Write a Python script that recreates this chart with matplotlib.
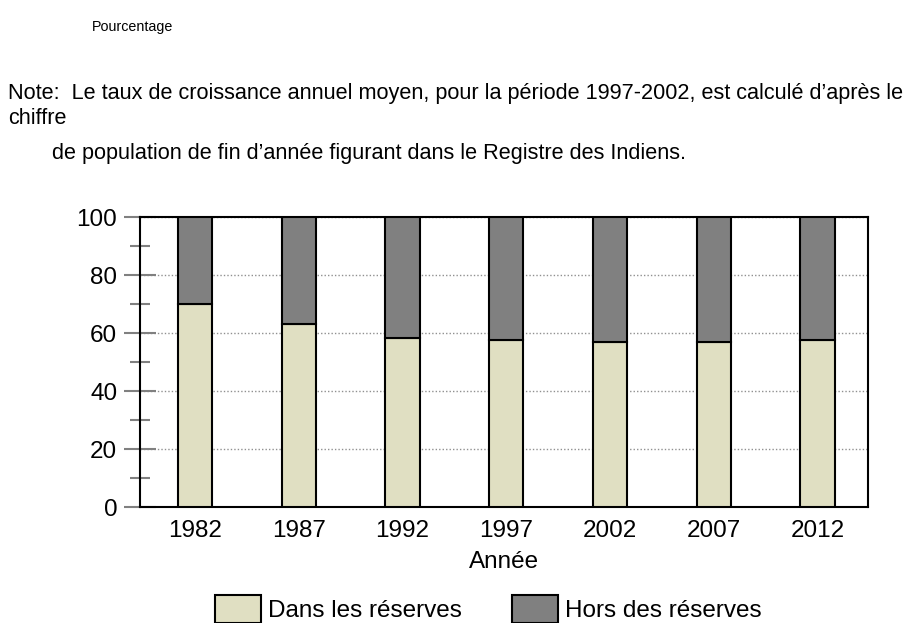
import matplotlib
matplotlib.use("Agg")
import matplotlib.pyplot as plt
from matplotlib.patches import Patch
import numpy as np

plt.rcParams['font.family'] = ['Liberation Sans', 'DejaVu Sans']

years = ["1982", "1987", "1992", "1997", "2002", "2007", "2012"]
dans_reserves = [70.2, 63.3, 58.5, 57.8, 57.1, 57.1, 57.8]
hors_reserves = [100 - v for v in dans_reserves]
series_labels = ["Dans les réserves", "Hors des réserves"]
colors = ["#e0dfc2", "#808080"]

fig = plt.figure(figsize=(9.12, 6.23), dpi=100)
ax = fig.add_axes([0.153, 0.186, 0.799, 0.465])

x = np.arange(len(years))
w = 0.33
ax.bar(x, dans_reserves, width=w, color=colors[0], edgecolor="black", linewidth=1.5, zorder=3)
ax.bar(x, hors_reserves, width=w, bottom=dans_reserves, color=colors[1], edgecolor="black", linewidth=1.5, zorder=3)

ax.set_xlim(-0.535, 6.49)
ax.set_ylim(0, 100)
ax.set_xticks(x)
ax.set_xticklabels(years, fontsize=17.5)
ax.set_yticks([0, 20, 40, 60, 80, 100])
ax.set_yticks([10, 30, 50, 70, 90], minor=True)
ax.tick_params(axis='y', which='major', direction='inout', length=23, width=1.5, color='#808080', labelsize=17.5, pad=4.5)
ax.tick_params(axis='y', which='minor', direction='inout', length=15, width=1.5, color='#808080')
ax.tick_params(axis='x', length=0, pad=9.6)
for s in ax.spines.values():
    s.set_linewidth(1.5)
    s.set_color("black")
ax.yaxis.grid(True, which='major', linestyle=(0, (1, 1.5)), color='#909090', linewidth=1.0, zorder=0)
ax.set_axisbelow(True)
ax.set_xlabel("Année", fontsize=17.5, labelpad=6)

fig.text(92/912, 1 - 27/623, "Pourcentage", fontsize=10.3, va='center', ha='left')
fig.text(8/912, 1 - 93/623, "Note:  Le taux de croissance annuel moyen, pour la période 1997-2002, est calculé d’après le",
         fontsize=15.6, va='center', ha='left')
fig.text(8/912, 1 - 118/623, "chiffre", fontsize=15.6, va='center', ha='left')
fig.text(52/912, 1 - 153/623, "de population de fin d’année figurant dans le Registre des Indiens.",
         fontsize=15.6, va='center', ha='left')

handles = [Patch(facecolor=colors[0], edgecolor='black', linewidth=1.5),
           Patch(facecolor=colors[1], edgecolor='black', linewidth=1.5)]
fig.legend(handles, series_labels, loc='upper left', bbox_to_anchor=(205/912, 1 - 585/623),
           ncol=2, frameon=False, fontsize=17.5, handlelength=1.9, handleheight=1.4,
           handletextpad=0.3, columnspacing=2.05, borderaxespad=0)

fig.savefig("out.png", dpi=100)
